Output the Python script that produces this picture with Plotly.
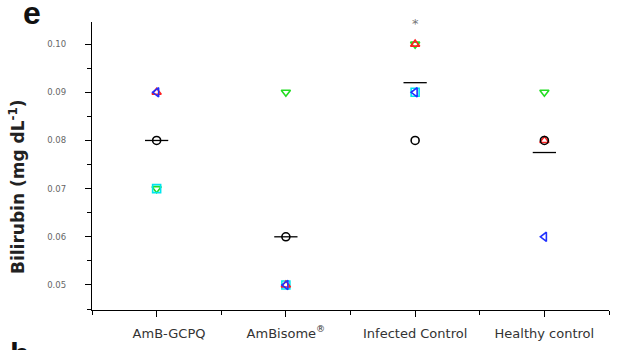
import plotly.graph_objects as go

categories = ["&nbsp;&nbsp;&nbsp;&nbsp;&nbsp;&nbsp;AmB-GCPQ", "AmBisome<sup>®</sup>", "Infected Control", "Healthy control"]
s_circle = [0.08, 0.06, 0.08, 0.08]
s_up = [0.09, 0.05, 0.10, 0.08]
s_down = [0.07, 0.09, 0.10, 0.09]
s_left = [0.09, 0.05, 0.09, 0.06]
s_cyan = [0.07, 0.05, 0.09, None]
y_ticks = [0.05, 0.06, 0.07, 0.08, 0.09, 0.10]

series = [
    (s_down, "triangle-down-open", "#22dd22"),
    (s_cyan, "square-open", "#00e5ee"),
    (s_up, "triangle-up-open", "#ff2020"),
    (s_left, "triangle-left-open", "#2030ff"),
    (s_circle, "circle-open", "#000000"),
]

xs = list(range(len(categories)))
fig = go.Figure()
for vals, sym, col in series:
    fig.add_trace(go.Scatter(x=xs, y=vals, mode="markers",
                             marker=dict(symbol=sym, size=8, color=col, line=dict(width=1.6, color=col)),
                             showlegend=False, cliponaxis=False))

# mean lines
for i in xs:
    vals = [s[i] for s, _, _ in series if s[i] is not None]
    m = sum(vals) / len(vals)
    fig.add_trace(go.Scatter(x=[i - 0.09, i + 0.09], y=[m, m], mode="lines",
                             line=dict(color="black", width=1.3), showlegend=False))

fig.update_layout(
    width=630, height=350,
    margin=dict(l=92, r=21, t=22, b=40, autoexpand=False),
    plot_bgcolor="white", paper_bgcolor="white",
    font=dict(family="DejaVu Sans", color="#333"),
)
fig.update_xaxes(
    range=[-0.5, 3.5], tickvals=xs, ticktext=categories,
    showline=True, linecolor="black", linewidth=1.3, mirror=False,
    ticks="outside", ticklen=6, tickwidth=1.3, tickcolor="black",
    minor=dict(ticks="outside", ticklen=4, dtick=0.5, tick0=0, tickcolor="black", tickwidth=1.2),
    showgrid=False, zeroline=False, automargin=False,
    tickfont=dict(size=13, color="#333", family="DejaVu Sans"),
    ticklabelstandoff=5,
)
fig.update_yaxes(
    range=[0.0448, 0.1046], tickvals=y_ticks, tickformat=".2f",
    showline=True, linecolor="black", linewidth=1.3,
    ticks="outside", ticklen=6, tickwidth=1.3, tickcolor="black",
    minor=dict(ticks="outside", ticklen=4, dtick=0.005, tick0=0.045, tickcolor="black", tickwidth=1.2),
    showgrid=False, zeroline=False, automargin=False,
    tickfont=dict(size=8.5, color="#666", family="DejaVu Sans"),
    ticklabelstandoff=17,
)
fig.add_annotation(x=0, y=0.5, xref="paper", yref="paper", xshift=-75, yshift=-21,
                   text="<b>Bilirubin (mg dL<sup>-1</sup>)</b>", textangle=-90, showarrow=False,
                   font=dict(size=17, color="#222", family="DejaVu Sans"),
                   xanchor="center", yanchor="middle")
fig.add_annotation(x=0, y=1, xref="paper", yref="paper", xshift=-71, yshift=9,
                   text="<b>e</b>", showarrow=False, font=dict(size=32, color="#111", family="Liberation Sans"),
                   xanchor="left", yanchor="middle")
fig.add_annotation(x=0, y=0, xref="paper", yref="paper", xshift=-84, yshift=-44,
                   text="<b>b</b>", showarrow=False, font=dict(size=32, color="#111", family="Liberation Sans"),
                   xanchor="left", yanchor="middle")
fig.add_annotation(x=2, y=1, xref="x", yref="paper", text="*", showarrow=False,
                   font=dict(size=13, color="#777"), yanchor="middle", yshift=-1)

fig.write_html("out.html", post_script="document.body.style.margin='0px';",
               config={"displayModeBar": False})
